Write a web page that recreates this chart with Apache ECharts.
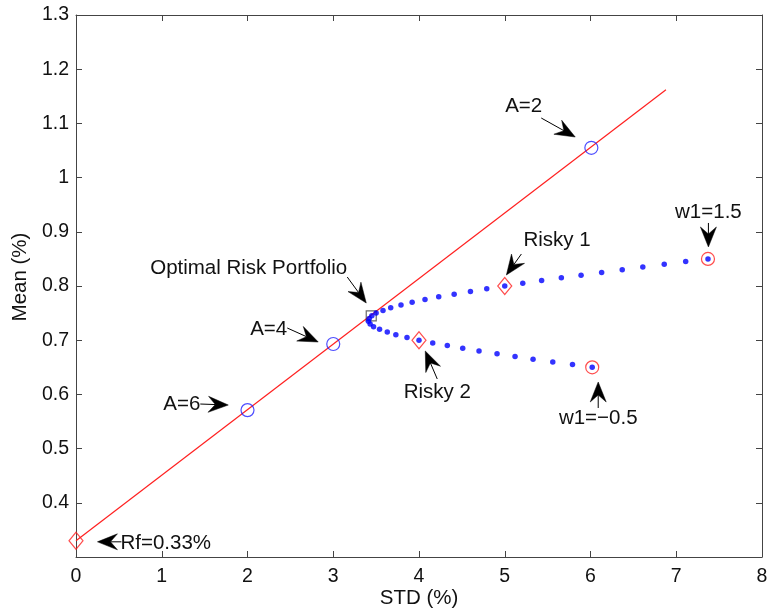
<!DOCTYPE html>
<html><head><meta charset="utf-8">
<script src="https://cdn.jsdelivr.net/npm/echarts@6/dist/echarts.min.js"></script>
<style>html,body{margin:0;padding:0;background:#fff}#c{width:769px;height:610px}</style>
</head><body><div id="c"></div>
<script>
// ---------- data ----------
const xMin = 0, xMax = 8, xStep = 1;
const yMin = 0.3, yMax = 1.3, yStep = 0.1;
const xName = 'STD (%)';
const yName = 'Mean (%)';

const rfStd = [0];
const rfMean = [0.33];

const calStd = [0, 6.88];
const calMean = [0.33, 1.162];

const aStd = [6.01, 3.0, 2.0];
const aMean = [1.055, 0.693, 0.571];

const optStd = [3.443];
const optMean = [0.745];

const riskyStd = [5.0, 4.0];
const riskyMean = [0.80, 0.70];

const endStd = [7.37, 6.02];
const endMean = [0.85, 0.65];

const frontierStd = [6.02, 5.79, 5.56, 5.33, 5.12, 4.91, 4.70, 4.51, 4.33, 4.16, 4.00,
  3.86, 3.73, 3.63, 3.54, 3.47, 3.43, 3.41, 3.42, 3.45, 3.50,
  3.58, 3.67, 3.79, 3.92, 4.07, 4.23, 4.41, 4.60, 4.79, 5.00,
  5.21, 5.43, 5.66, 5.89, 6.13, 6.37, 6.61, 6.86, 7.11, 7.37];
const frontierMean = [0.650, 0.655, 0.660, 0.665, 0.670, 0.675, 0.680, 0.685, 0.690, 0.695, 0.700,
  0.705, 0.710, 0.715, 0.720, 0.725, 0.730, 0.735, 0.740, 0.745, 0.750,
  0.755, 0.760, 0.765, 0.770, 0.775, 0.780, 0.785, 0.790, 0.795, 0.800,
  0.805, 0.810, 0.815, 0.820, 0.825, 0.830, 0.835, 0.840, 0.845, 0.850];

// annotation texts and the data points their arrow tips touch
const annTexts = ['Rf=0.33%', 'A=6', 'A=4', 'Optimal Risk Portfolio', 'A=2', 'Risky 1', 'Risky 2', 'w1=1.5', 'w1=\u22120.5'];
const annTipStd = [0.25, 1.776, 2.825, 3.385, 5.822, 5.019, 4.073, 7.375, 6.09];
const annTipMean = [0.328, 0.5804, 0.6967, 0.7686, 1.0749, 0.8203, 0.6801, 0.872, 0.6229];

// ---------- layout (pixel offsets of arrow tails and texts, relative to tips) ----------
const annLayout = [
  {tail: [24, 0],   text: [23, 2],    align: 'left'},
  {tail: [-28, -1], text: [-28, -1],  align: 'right'},
  {tail: [-31, -14],text: [-31, -13], align: 'right'},
  {tail: [-19, -26],text: [-19, -35], align: 'right'},
  {tail: [-34, -19],text: [-33, -31], align: 'right'},
  {tail: [15, -21], text: [17, -35],  align: 'left'},
  {tail: [12, 28],  text: [12, 41],   align: 'center'},
  {tail: [0, -24],  text: [0, -35],   align: 'center'},
  {tail: [0, 26],   text: [0, 36],    align: 'center'}
];

const FONT = '"Liberation Sans", Arial, Helvetica, sans-serif';
const AXIS_COLOR = '#444';

const zip = (a, b) => a.map((v, i) => [v, b[i]]);

function renderArrow(params, api) {
  const i = params.dataIndex;
  const L = annLayout[i];
  const tip = api.coord([api.value(0), api.value(1)]);
  const tail = [tip[0] + L.tail[0], tip[1] + L.tail[1]];
  const dx = tip[0] - tail[0], dy = tip[1] - tail[1];
  const len = Math.hypot(dx, dy);
  const ux = dx / len, uy = dy / len;
  const px = -uy, py = ux;
  const H = 20, W = 8, N = 7;
  const base = [tip[0] - ux * H, tip[1] - uy * H];
  const notch = [tip[0] - ux * (H - N), tip[1] - uy * (H - N)];
  const left = [base[0] + px * W, base[1] + py * W];
  const right = [base[0] - px * W, base[1] - py * W];
  return {
    type: 'group',
    children: [
      {type: 'line', shape: {x1: tail[0], y1: tail[1], x2: notch[0], y2: notch[1]},
       style: {stroke: '#000', lineWidth: 1}},
      {type: 'polygon', shape: {points: [tip, left, notch, right]},
       style: {fill: '#000', stroke: '#000', lineWidth: 0.5}},
      {type: 'text', x: tip[0] + L.text[0], y: tip[1] + L.text[1],
       style: {text: annTexts[i], fill: '#111', font: '20.5px ' + FONT,
               align: L.align, verticalAlign: 'middle'}}
    ]
  };
}

const chart = echarts.init(document.getElementById('c'), null, {renderer: 'canvas'});

const axisCommon = {
  axisLine: {show: true, onZero: false, lineStyle: {color: AXIS_COLOR, width: 1}},
  axisTick: {show: true, inside: true, length: 6, lineStyle: {color: AXIS_COLOR}},
  splitLine: {show: false}
};

chart.setOption({
  animation: false,
  backgroundColor: '#fff',
  textStyle: {fontFamily: FONT},
  grid: {left: 76, right: 7, top: 15, bottom: 53, containLabel: false, outerBoundsMode: 'none'},
  graphic: [
    {type: 'text', x: 20, y: 277, rotation: Math.PI / 2,
     style: {text: yName, font: '20.5px ' + FONT, fill: '#111', align: 'center', verticalAlign: 'middle'}}
  ],
  xAxis: [
    Object.assign({type: 'value', min: xMin, max: xMax, interval: xStep, position: 'bottom',
      name: xName, nameLocation: 'middle', nameGap: 31, nameMoveOverlap: false,
      nameTextStyle: {fontSize: 20.5, color: '#111', fontFamily: FONT},
      axisLabel: {fontSize: 19.5, color: '#111', margin: 10, fontFamily: FONT}}, axisCommon),
    Object.assign({type: 'value', min: xMin, max: xMax, interval: xStep, position: 'top',
      axisLabel: {show: false}}, axisCommon)
  ],
  yAxis: [
    Object.assign({type: 'value', min: yMin, max: yMax, interval: yStep, position: 'left',
      axisLabel: {fontSize: 19.5, color: '#111', margin: 7, fontFamily: FONT, showMinLabel: false,
        formatter: v => String(+v.toFixed(1))}}, axisCommon),
    Object.assign({type: 'value', min: yMin, max: yMax, interval: yStep, position: 'right',
      axisLabel: {show: false}}, axisCommon)
  ],
  series: [
    {type: 'line', data: zip(calStd, calMean), symbol: 'none', silent: true,
     lineStyle: {color: '#ff2020', width: 1.2}, z: 2},
    {type: 'scatter', data: zip(frontierStd, frontierMean), symbol: 'circle', symbolSize: 5.5,
     itemStyle: {color: '#0000ff'}, z: 4},
    {type: 'scatter', data: zip(rfStd, rfMean), symbol: 'diamond', symbolSize: [14, 17],
     itemStyle: {color: 'none', borderColor: '#ff2020', borderWidth: 1.2}, z: 3},
    {type: 'scatter', data: zip(riskyStd, riskyMean), symbol: 'diamond', symbolSize: [14, 17],
     itemStyle: {color: 'none', borderColor: '#ff2020', borderWidth: 1.2}, z: 3},
    {type: 'scatter', data: zip(endStd, endMean), symbol: 'circle', symbolSize: 13,
     itemStyle: {color: 'none', borderColor: '#ff2020', borderWidth: 1.2}, z: 3},
    {type: 'scatter', data: zip(aStd, aMean), symbol: 'circle', symbolSize: 13,
     itemStyle: {color: 'none', borderColor: '#2020ff', borderWidth: 1.2}, z: 3},
    {type: 'scatter', data: zip(optStd, optMean), symbol: 'rect', symbolSize: 10,
     itemStyle: {color: 'none', borderColor: '#444', borderWidth: 1.2}, z: 3},
    {type: 'custom', data: zip(annTipStd, annTipMean), renderItem: renderArrow, z: 5, silent: true}
  ]
});
</script></body></html>
